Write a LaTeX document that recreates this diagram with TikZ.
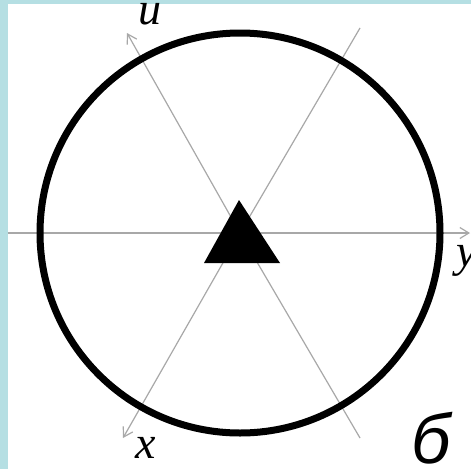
\documentclass[tikz,border=0pt]{standalone}
\usepackage{fontspec}
\setmainfont{Liberation Serif}
\newfontfamily\labsans{Liberation Sans}
\usetikzlibrary{arrows.meta}
\definecolor{framecol}{HTML}{B5DFE3}
\definecolor{axiscol}{HTML}{A8A8A8}
\begin{document}
\begin{tikzpicture}[x=1pt,y=-1pt,
  axis/.style={draw=axiscol, line width=1.2pt},
  axisarrow/.style={axis, -{Straight Barb[length=9pt,width=11pt,line width=1.2pt]}},
  lab/.style={font=\fontsize{46}{46}\selectfont\itshape, inner sep=0pt, anchor=base},
  ring/.style={draw=black, line width=7pt}]
\useasboundingbox (0,0) rectangle (471,469);
\clip (0,0) rectangle (471,469);
\fill[white] (0,0) rectangle (471,469);
% frame
\fill[framecol] (0,0) rectangle (471,3.5);
\fill[framecol] (0,0) rectangle (7.5,469);
% axes
\coordinate (O) at (240,233);
\coordinate (U) at (127,33);
\coordinate (X) at (123,438);
\coordinate (Y) at (470,233);
\coordinate (L) at (7.5,233);
\coordinate (UR) at (360,28);
\coordinate (LR) at (360,438);
\draw[axisarrow] (O) -- (U);
\draw[axisarrow] (O) -- (X);
\draw[axisarrow] (L) -- (Y);
\draw[axis] (O) -- (UR);
\draw[axis] (O) -- (LR);
% circle
\draw[ring] (O) circle[radius=200];
% triangle
\coordinate (TA) at (239,200);
\coordinate (TL) at (204,263);
\coordinate (TR) at (280,263);
\fill[black] (TA) -- (TL) -- (TR) -- cycle;
% labels
\node[lab] (lu) at (150,24) {u};
\node[lab] (lx) at (146,458) {x};
\node[lab] (ly) at (467,266) {y};
\node[font=\fontsize{70}{70}\selectfont\labsans\itshape, inner sep=0pt, anchor=base] (lb) at (431,463) {б};
\end{tikzpicture}
\end{document}
